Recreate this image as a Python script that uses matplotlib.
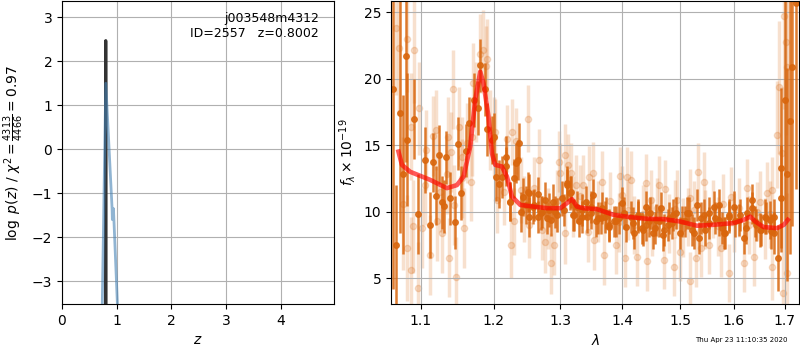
import matplotlib
matplotlib.use("Agg")
import matplotlib.pyplot as plt
from matplotlib.ticker import FixedLocator, FormatStrFormatter, NullLocator

# p(z) panel
z_pz = [0.797, 0.7995, 0.802]
logp_pz = [-6.0, 2.47, -6.0]
z_chi = [0.735, 0.800, 0.915, 0.920, 0.935, 0.940, 1.015]
logp_chi = [-3.6, 1.50, -1.35, -1.60, -1.60, -1.35, -3.6]

# spectrum, first beam (solid)
wave_a = [1.0638, 1.0680, 1.0722, 1.0765, 1.0804, 1.0825, 1.0904, 1.0956,
          1.1050, 1.1115, 1.1160, 1.1201, 1.1243, 1.1276, 1.1311, 1.1335,
          1.1394, 1.1463, 1.1504, 1.1545, 1.1610, 1.1655, 1.1724, 1.1779,
          1.1806, 1.1871, 1.1899, 1.1977, 1.2009, 1.2036, 1.2071, 1.2125,
          1.2174, 1.2234, 1.2298, 1.2349, 1.2364, 1.2424, 1.2473, 1.2523,
          1.2583, 1.2649, 1.2698, 1.2762, 1.2822, 1.2882, 1.2948, 1.3024,
          1.3105, 1.3142, 1.3195, 1.3267, 1.3336, 1.3401, 1.3482, 1.3519,
          1.3590, 1.3670, 1.3720, 1.3778, 1.3886, 1.3994, 1.4033, 1.4137,
          1.4194, 1.4263, 1.4340, 1.4397, 1.4454, 1.4530, 1.4570, 1.4657,
          1.4714, 1.4801, 1.4860, 1.4934, 1.5004, 1.5096, 1.5157, 1.5250,
          1.5313, 1.5374, 1.5448, 1.5528, 1.5645, 1.5710, 1.5770, 1.5830,
          1.5900, 1.5993, 1.6090, 1.6185, 1.6250, 1.6350, 1.6415, 1.6510,
          1.6610, 1.6710, 1.6780, 1.6860, 1.6930, 1.6936, 1.7014, 1.7055,
          1.7110, 1.7160, 1.7240,
          1.2173, 1.2323, 1.2238, 1.2398, 1.2498, 1.2523, 1.2598, 1.2648,
          1.2723, 1.2798, 1.2847, 1.2922, 1.3050, 1.3105, 1.3158, 1.3212,
          1.3292, 1.3347, 1.3417, 1.3482, 1.3562, 1.3643, 1.3724, 1.3777,
          1.3858, 1.3939, 1.4057, 1.4173, 1.4260, 1.4347, 1.4404, 1.4463,
          1.4549, 1.4636, 1.4694, 1.4780, 1.4867, 1.5035, 1.5128, 1.5221,
          1.5343, 1.5436, 1.5529, 1.5621, 1.5714, 1.5807, 1.5899, 1.6026,
          1.6125, 1.6224, 1.6343, 1.6422, 1.6522, 1.6621, 1.6720, 1.6786]
flux_a = [19.2, 7.5, 17.4, 12.8, 21.7, 15.4, 17.0, 9.8,
          13.9, 9.0, 13.7, 11.2, 14.3, 10.7, 10.4, 14.1,
          11.0, 9.2, 15.1, 11.4, 14.6, 16.65, 18.4, 17.8,
          21.0, 19.2, 16.2, 15.4, 15.6, 12.6, 12.1, 12.6,
          14.1, 10.76, 12.5, 13.9, 15.15, 11.1, 10.5, 11.4,
          10.34, 11.3, 9.9, 10.9, 10.14, 10.76, 9.76, 11.0,
          12.14, 11.4, 9.76, 10.38, 9.63, 10.76, 9.9, 11.25,
          9.5, 10.26, 9.6, 8.88, 9.26, 10.64, 9.9, 9.63,
          8.38, 9.76, 8.76, 10.38, 9.26, 8.38, 9.38, 10.26,
          8.63, 9.5, 9.13, 9.9, 8.38, 9.26, 9.9, 8.38,
          10.5, 9.5, 8.63, 9.9, 9.5, 10.5, 8.76, 8.38,
          9.63, 10.38, 9.38, 8.0, 9.9, 10.9, 9.26, 8.63,
          9.63, 9.38, 8.38, 6.5, 11.0, 13.3, 18.4, 12.8,
          16.8, 20.9, 25.7,
          13.4, 13.65, 10.76, 10.0, 11.5, 9.63, 10.5, 9.63,
          10.0, 9.51, 9.38, 10.0, 10.14, 12.0, 11.5, 9.76,
          9.26, 10.14, 9.63, 10.38, 9.26, 9.51, 9.89, 9.01,
          9.26, 9.51, 8.88, 9.13, 9.63, 8.63, 9.01, 9.89,
          8.76, 9.26, 8.26, 9.01, 9.76, 9.26, 9.89, 8.63,
          8.0, 9.76, 9.13, 10.38, 9.38, 8.38, 9.76, 9.26,
          9.76, 8.76, 10.26, 9.01, 8.63, 9.51, 8.51, 9.63]
err_a = [15, 4.5, 9, 6, 8, 5, 3, 3,
         2.5, 2.5, 2.2, 2.2, 2.2, 2.0, 2.0, 2.0,
         2.0, 2.0, 2.0, 2.0, 2.0, 2.0, 2.0, 2.0,
         2.0, 2.0, 2.0, 1.8, 1.8, 1.8, 1.8, 1.6,
         1.6, 1.5, 1.5, 1.5, 1.5, 1.4, 1.4, 1.4,
         1.3, 1.3, 1.3, 1.3, 1.3, 1.3, 1.3, 1.3,
         1.3, 1.3, 1.2, 1.2, 1.2, 1.2, 1.2, 1.2,
         1.2, 1.2, 1.2, 1.2, 1.2, 1.2, 1.2, 1.2,
         1.2, 1.2, 1.2, 1.2, 1.2, 1.2, 1.2, 1.2,
         1.2, 1.2, 1.2, 1.2, 1.2, 1.2, 1.2, 1.2,
         1.2, 1.2, 1.2, 1.2, 1.2, 1.2, 1.2, 1.2,
         1.2, 1.2, 1.2, 1.2, 1.2, 1.2, 1.2, 1.3,
         1.3, 1.4, 1.6, 2.5, 4, 6, 9, 8,
         10, 12, 14,
         1.5, 1.5, 1.5, 1.5, 1.5, 1.5, 1.2, 1.2,
         1.2, 1.2, 1.2, 1.2, 1.2, 1.2, 1.2, 1.2,
         1.2, 1.2, 1.2, 1.2, 1.2, 1.2, 1.2, 1.2,
         1.2, 1.2, 1.2, 1.2, 1.2, 1.2, 1.2, 1.2,
         1.2, 1.2, 1.2, 1.2, 1.2, 1.2, 1.2, 1.2,
         1.2, 1.2, 1.2, 1.2, 1.2, 1.2, 1.2, 1.2,
         1.2, 1.2, 1.2, 1.2, 1.2, 1.2, 1.3, 1.3]

# spectrum, second beam (faint)
wave_b = [1.0680, 1.0720, 1.0765, 1.0816, 1.0825, 1.0870, 1.0875, 1.0895,
          1.0906, 1.0956, 1.0980, 1.1014, 1.1050, 1.1065, 1.1116, 1.1166,
          1.1196, 1.1219, 1.1250, 1.1287, 1.1347, 1.1365, 1.1370, 1.1402,
          1.1434, 1.1450, 1.1476, 1.1518, 1.1550, 1.1555, 1.1580, 1.1625,
          1.1680, 1.1690, 1.1703, 1.1748, 1.1806, 1.1852, 1.1885, 1.1899,
          1.1953, 1.2009, 1.2025, 1.2055, 1.2150, 1.2199, 1.2249, 1.2273,
          1.2298, 1.2333, 1.2398, 1.2450, 1.2508, 1.2523, 1.2600, 1.2673,
          1.2713, 1.2762, 1.2800, 1.2847, 1.2897, 1.2950, 1.2972, 1.3000,
          1.3065, 1.3076, 1.3121, 1.3158, 1.3200, 1.3240, 1.3300, 1.3357,
          1.3428, 1.3444, 1.3519, 1.3535, 1.3600, 1.3670, 1.3697, 1.3800,
          1.3886, 1.3950, 1.3955, 1.3994, 1.4051, 1.4080, 1.4100, 1.4148,
          1.4200, 1.4252, 1.4350, 1.4397, 1.4426, 1.4483, 1.4500, 1.4600,
          1.4628, 1.4714, 1.4732, 1.4800, 1.4900, 1.4910, 1.4946, 1.5004,
          1.5050, 1.5150, 1.5175, 1.5187, 1.5250, 1.5281, 1.5323, 1.5374,
          1.5435, 1.5450, 1.5528, 1.5600, 1.5700, 1.5746, 1.5800, 1.5901,
          1.5946, 1.6000, 1.6100, 1.6185, 1.6250, 1.6300, 1.6382, 1.6450,
          1.6510, 1.6600, 1.6640, 1.6700, 1.6740, 1.6750, 1.6850, 1.6885,
          1.6940, 1.6960, 1.6990, 1.7020, 1.7040, 1.7055]
flux_b = [23.8, 22.3, 10.6, 22.97, 7.26, 16.4, 5.6, 8.9,
          22.2, 4.25, 17.8, 8.76, 12.0, 14.65, 6.75, 15.7,
          16.15, 9.26, 11.5, 8.38, 12.8, 15.65, 6.55, 14.5,
          19.2, 10.5, 5.12, 16.4, 12.5, 14.15, 8.76, 15.15,
          12.26, 15.65, 19.66, 18.28, 21.9, 22.2, 20.96, 21.5,
          16.15, 15.6, 16.0, 10.9, 11.5, 15.5, 7.5, 16.0,
          9.26, 15.3, 11.64, 10.2, 17.0, 9.0, 11.8, 13.9,
          8.63, 7.68, 9.5, 6.13, 7.5, 10.8, 13.77, 12.9,
          14.27, 8.38, 13.52, 12.9, 10.4, 12.0, 11.2, 12.0,
          8.5, 12.64, 12.94, 7.88, 10.0, 12.26, 6.75, 10.8,
          7.5, 9.2, 12.7, 11.27, 6.5, 12.64, 10.1, 12.39,
          9.0, 6.62, 9.8, 12.14, 6.25, 10.9, 8.9, 10.3,
          12.0, 6.38, 11.68, 9.1, 5.87, 10.2, 10.9, 7.0,
          8.8, 9.6, 4.8, 11.0, 10.1, 6.5, 13.0, 7.26,
          12.26, 9.4, 7.5, 10.2, 8.9, 7.26, 10.6, 5.38,
          11.14, 9.2, 10.3, 6.13, 11.77, 9.0, 6.62, 10.0,
          10.76, 8.7, 11.4, 9.8, 11.64, 5.87, 15.8, 19.36,
          14.4, 3.9, 24.7, 22.8, 5.38, 20.9]
err_b = [5, 5, 5, 4, 4, 4, 4, 3.5,
         4, 3.5, 3.5, 3, 3, 3, 3, 3,
         3, 3, 3, 3, 3, 3, 3, 3,
         3, 3, 3, 3, 3, 3, 3, 3,
         3, 3, 3, 3, 3, 3, 3, 3,
         3, 3, 2.5, 2.5, 2.5, 2.5, 2.5, 2.5,
         2.5, 2.5, 2.5, 2.5, 2.5, 2.5, 2.3, 2.3,
         2.3, 2.3, 2.3, 2.3, 2.3, 2.3, 2.3, 2.3,
         2.3, 2.3, 2.3, 2.3, 2.3, 2.3, 2.3, 2.3,
         2.3, 2.3, 2.3, 2.3, 2.3, 2.3, 2.3, 2.2,
         2.2, 2.2, 2.2, 2.2, 2.2, 2.2, 2.2, 2.2,
         2.2, 2.2, 2.2, 2.2, 2.2, 2.2, 2.2, 2.2,
         2.2, 2.2, 2.2, 2.2, 2.2, 2.2, 2.2, 2.2,
         2.2, 2.2, 2.2, 2.2, 2.2, 2.2, 2.2, 2.2,
         2.2, 2.2, 2.2, 2.2, 2.2, 2.2, 2.2, 2.2,
         2.2, 2.2, 2.2, 2.2, 2.2, 2.2, 2.2, 2.2,
         2.3, 2.3, 2.3, 2.5, 2.5, 2.5, 4, 5,
         5, 5, 7, 7, 6, 8]

# best-fit model
wave_m = [1.0709, 1.0753, 1.0860, 1.1124, 1.1348, 1.1485, 1.1576, 1.1669,
          1.1739, 1.1810, 1.1856, 1.1927, 1.1976, 1.2024, 1.2120, 1.2193,
          1.2267, 1.2389, 1.2588, 1.2791, 1.2997, 1.3101, 1.3180, 1.3259,
          1.3364, 1.3580, 1.3853, 1.4132, 1.4418, 1.4706, 1.5002, 1.5306,
          1.5614, 1.5992, 1.6185, 1.6316, 1.6414, 1.6578, 1.6847, 1.6983,
          1.7065]
flux_m = [14.52, 13.52, 13.0, 12.39, 11.77, 12.0, 12.64, 14.9,
          18.4, 20.53, 19.66, 17.15, 14.4, 13.52, 13.4, 12.64,
          11.14, 10.51, 10.38, 10.26, 10.26, 10.64, 10.94, 10.38,
          10.26, 10.19, 9.76, 9.59, 9.46, 9.44, 9.26, 8.94,
          9.01, 9.14, 9.38, 9.63, 9.26, 8.84, 8.76, 9.01,
          9.38]

orange = (0.85, 0.40, 0.05)

fig = plt.figure(figsize=(8, 3.5), dpi=100)

ax = fig.add_axes([0.0775, 0.1314, 0.34, 0.8656])
ax.plot(z_pz, logp_pz, color="#333333", lw=2.2)
ax.plot(z_chi, logp_chi, color="steelblue", alpha=0.6, lw=2)
ax.set_xlim(0, 4.97)
ax.set_ylim(-3.52, 3.37)
ax.set_xticks([0, 1, 2, 3, 4])
ax.set_yticks([-3, -2, -1, 0, 1, 2, 3])
ax.grid()
ax.set_xlabel("$z$")
ax.set_ylabel(r"$\log\ p(z)$ / $\chi^2=\frac{4313}{4466}=0.97$")
ax.text(0.945, 0.965, "j003548m4312\nID=2557   z=0.8002", transform=ax.transAxes,
        ha="right", va="top", fontsize=9)

ax2 = fig.add_axes([0.489, 0.1314, 0.51, 0.8656])
ax2.errorbar(wave_b, flux_b, yerr=err_b, fmt="o", color=orange, alpha=0.2,
             markersize=4.5, elinewidth=2.5, capsize=0, zorder=1)
ax2.errorbar(wave_a, flux_a, yerr=err_a, fmt="o", color=orange, alpha=0.85,
             markersize=4, elinewidth=1.8, capsize=0, zorder=2)
ax2.plot(wave_m, flux_m, color="red", alpha=0.65, lw=3.3, zorder=3)
ax2.set_xscale("log")
ax2.set_xlim(1.0616, 1.730)
ax2.set_ylim(3.05, 25.85)
ax2.xaxis.set_major_locator(FixedLocator([1.1, 1.2, 1.3, 1.4, 1.5, 1.6, 1.7]))
ax2.xaxis.set_major_formatter(FormatStrFormatter("%.1f"))
ax2.xaxis.set_minor_locator(NullLocator())
ax2.set_yticks([5, 10, 15, 20, 25])
ax2.grid()
ax2.set_xlabel(r"$\lambda$")
ax2.set_ylabel(r"$f_\lambda\times10^{-19}$")

fig.text(0.984, 0.029, "Thu Apr 23 11:10:35 2020", ha="right", va="center", fontsize=5)

fig.savefig("out.png", dpi=100)
